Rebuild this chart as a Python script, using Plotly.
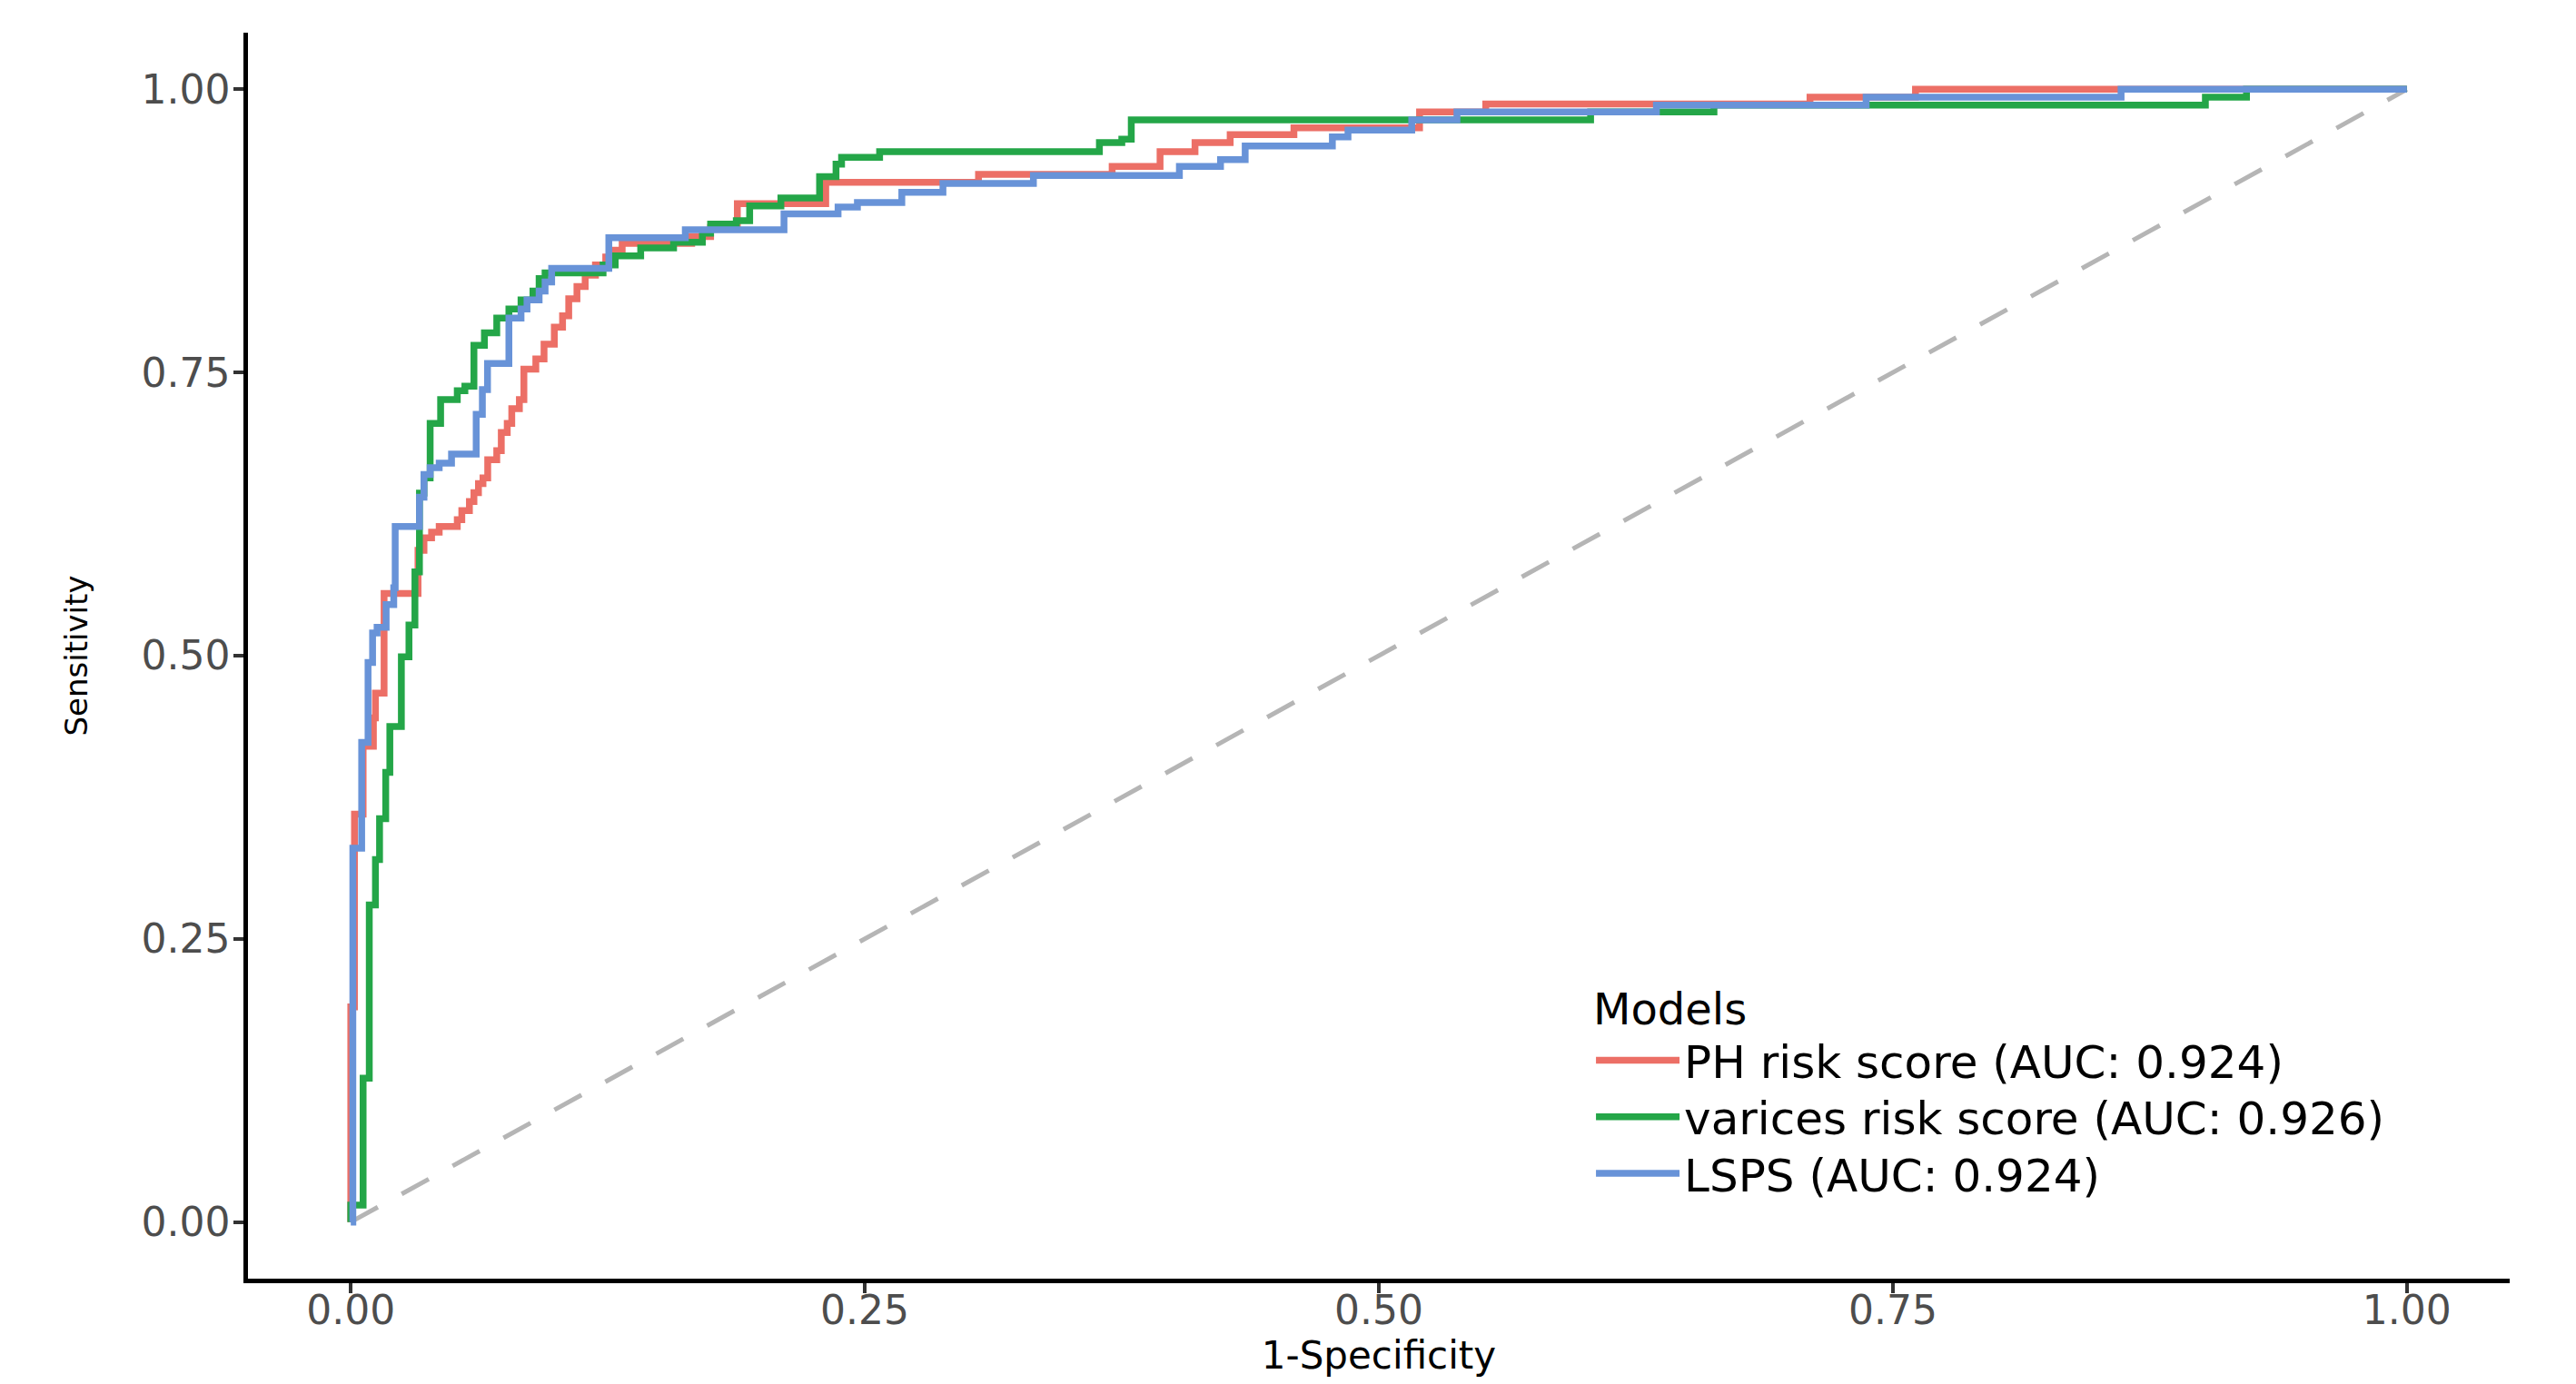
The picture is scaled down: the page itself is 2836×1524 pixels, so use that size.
import plotly.graph_objects as go

# ---- data ----
models = ["PH risk score (AUC: 0.924)",
          "varices risk score (AUC: 0.926)",
          "LSPS (AUC: 0.924)"]
colors = ["#EC6F66", "#24A648", "#6893D8"]

# step ROC curves: each point = (1-specificity where the rise happens, sensitivity after the rise)
ph_fpr = [0, 0, 0.0018, 0.006, 0.011, 0.012, 0.0162, 0.0327, 0.0356, 0.0393, 0.043, 0.0518,
          0.054, 0.0577, 0.0599, 0.0621, 0.0643, 0.0666, 0.071, 0.0732, 0.0761, 0.0783, 0.082,
          0.0842, 0.090, 0.094, 0.099, 0.103, 0.106, 0.110, 0.114, 0.119, 0.124, 0.128, 0.132,
          0.1658, 0.175, 0.188, 0.231, 0.3053, 0.3703, 0.3936, 0.4106, 0.4277, 0.4587, 0.5198,
          0.552, 0.7097, 0.761, 1.0]
ph_tpr = [0, 0.19, 0.36, 0.42, 0.445, 0.467, 0.555, 0.593, 0.604, 0.609, 0.614, 0.62,
          0.628, 0.636, 0.644, 0.652, 0.657, 0.673, 0.681, 0.697, 0.705, 0.718, 0.726,
          0.753, 0.762, 0.775, 0.79, 0.800, 0.815, 0.826, 0.836, 0.845, 0.852, 0.858, 0.864,
          0.870, 0.878, 0.899, 0.918, 0.925, 0.932, 0.945, 0.953, 0.960, 0.966, 0.980,
          0.987, 0.993, 1.0, 1.0]

var_fpr = [0, 0, 0.006, 0.009, 0.012, 0.014, 0.017, 0.019, 0.0246, 0.0283, 0.0312, 0.0334,
           0.0356, 0.0386, 0.0437, 0.0518, 0.0555, 0.0599, 0.065, 0.071, 0.0769, 0.0828,
           0.0886, 0.0916, 0.0945, 0.1227, 0.1286, 0.141, 0.157, 0.171, 0.175, 0.1875, 0.194,
           0.2092, 0.228, 0.236, 0.2387, 0.2572, 0.3641, 0.375, 0.3796, 0.603, 0.663, 0.902,
           0.922, 1.0]
var_tpr = [0, 0.015, 0.127, 0.28, 0.32, 0.356, 0.397, 0.4375, 0.499, 0.527, 0.574, 0.6435,
           0.657, 0.705, 0.726, 0.734, 0.738, 0.774, 0.785, 0.798, 0.806, 0.814,
           0.822, 0.833, 0.838, 0.845, 0.853, 0.860, 0.865, 0.873, 0.881, 0.884, 0.897,
           0.904, 0.923, 0.934, 0.940, 0.945, 0.953, 0.956, 0.973, 0.980, 0.986, 0.993,
           1.0, 1.0]

lsps_fpr = [0, 0.001, 0.0053, 0.0084, 0.0106, 0.0128, 0.0172, 0.0209, 0.0216, 0.0334, 0.0356,
            0.0386, 0.043, 0.049, 0.061, 0.064, 0.0665, 0.0769, 0.0828, 0.0857, 0.0916, 0.0945,
            0.0977, 0.1255, 0.1627, 0.2107, 0.237, 0.2464, 0.268, 0.288, 0.332, 0.403, 0.423,
            0.435, 0.4774, 0.485, 0.516, 0.538, 0.635, 0.737, 0.861, 1.0]
lsps_tpr = [0, 0.33, 0.4235, 0.494, 0.52, 0.525, 0.545, 0.56, 0.614, 0.64, 0.66,
            0.666, 0.67, 0.678, 0.713, 0.735, 0.758, 0.798, 0.806, 0.814, 0.822, 0.83,
            0.842, 0.869, 0.876, 0.890, 0.896, 0.900, 0.909, 0.917, 0.924, 0.932, 0.938,
            0.950, 0.958, 0.964, 0.973, 0.980, 0.986, 0.993, 1.0, 1.0]

diag_x = [0, 1]
diag_y = [0, 1]

tick_vals = [0, 0.25, 0.5, 0.75, 1.0]
tick_text = ["0.00", "0.25", "0.50", "0.75", "1.00"]

FONT = "DejaVu Sans"

fig = go.Figure()
fig.add_trace(go.Scatter(x=diag_x, y=diag_y, mode="lines", showlegend=False, hoverinfo="skip",
                         line=dict(color="#B5B5B5", width=5, dash="34px,30px")))

legend_ids = ["legend", "legend2", "legend3"]
for name, fx, ty, col, lg in zip(models, [ph_fpr, var_fpr, lsps_fpr],
                                  [ph_tpr, var_tpr, lsps_tpr], colors, legend_ids):
    fig.add_trace(go.Scatter(x=fx, y=ty, mode="lines", name=name, legend=lg,
                             line=dict(color=col, width=7.5, shape="hv")))

axis_common = dict(range=[-0.05, 1.05], tickvals=tick_vals, ticktext=tick_text,
                   showline=True, linecolor="black", linewidth=4.5, ticks="outside",
                   ticklen=11, tickwidth=4, tickcolor="#333333", showgrid=False, zeroline=False,
                   tickfont=dict(family=FONT, size=44, color="#4D4D4D"), fixedrange=True)

leg_common = dict(xanchor="left", x=0.594, font=dict(family=FONT, size=50, color="black"),
                  itemwidth=92, bgcolor="rgba(0,0,0,0)", borderwidth=0)

# the page body adds an 8 px offset, so margins are shifted to compensate
fig.update_layout(
    width=2836, height=1524,
    margin=dict(l=265, r=81, t=28, b=124),
    paper_bgcolor="white", plot_bgcolor="white",
    font=dict(family=FONT, color="black"),
    xaxis=dict(**axis_common, ticklabelstandoff=-19,
               title=dict(text="1-Specificity", font=dict(family=FONT, size=42, color="black"),
                          standoff=5)),
    yaxis=dict(**axis_common, ticklabelstandoff=-5,
               title=dict(text="Sensitivity", font=dict(family=FONT, size=34, color="black"),
                          standoff=50)),
    legend=dict(**leg_common, y=0.2492, yanchor="top",
                title=dict(text="Models", font=dict(family=FONT, size=48, color="black"))),
    legend2=dict(**leg_common, y=0.1300, yanchor="middle"),
    legend3=dict(**leg_common, y=0.0845, yanchor="middle"),
)

fig.write_html("out.html")
